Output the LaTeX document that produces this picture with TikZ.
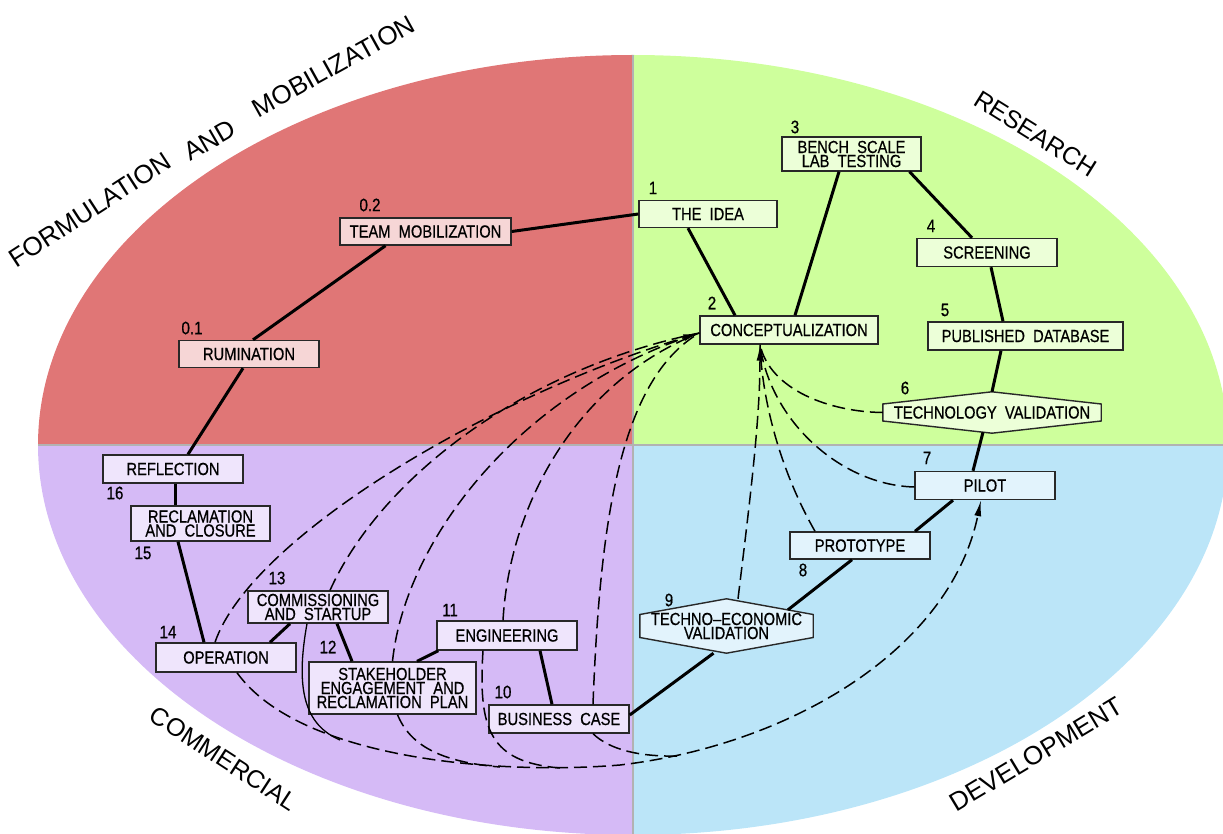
\documentclass[tikz,border=0pt]{standalone}
\usepackage{fontspec}
\setmainfont{Liberation Sans}
\newfontfamily\boxfont{Liberation Sans}[FakeStretch=0.84,FakeBold=0.6]
\newfontfamily\lblfont{Liberation Sans}
\usetikzlibrary{arrows.meta,calc}
\pgfdeclarelayer{bg}
\pgfdeclarelayer{mid}
\pgfsetlayers{bg,mid,main}
\definecolor{qpink}{RGB}{224,118,118}
\definecolor{qgreen}{RGB}{206,255,156}
\definecolor{qpurple}{RGB}{213,186,246}
\definecolor{qblue}{RGB}{187,229,248}
\definecolor{npink}{RGB}{246,214,214}
\definecolor{ngreen}{RGB}{236,255,216}
\definecolor{npurple}{RGB}{239,229,252}
\definecolor{nblue}{RGB}{226,243,252}
\definecolor{edge}{RGB}{40,40,40}
\tikzset{
  box/.style={draw=edge, line width=1.4pt, inner sep=1pt, minimum width=140pt, minimum height=27pt, align=center, font=\boxfont\fontsize{17.5}{14}\selectfont},
  hexbox/.style={inner sep=0pt, align=center, font=\boxfont\fontsize{17.5}{14}\selectfont},
  hexline/.style={draw=edge, line width=1.4pt},
  num/.style={font=\boxfont\fontsize{18}{18}\selectfont, inner sep=0pt},
  qlabel/.style={font=\lblfont\fontsize{26}{26}\selectfont, inner sep=0pt, anchor=base},
  qlabelsm/.style={qlabel, font=\lblfont\fontsize{25}{25}\selectfont},
  link/.style={line width=3pt},
  dlink/.style={line width=1.5pt, dash pattern=on 13pt off 6pt},
  tip/.style={-{Latex[length=16pt,width=7pt]}},
  divider/.style={draw=black!30, line width=1.5pt}
}
\begin{document}
\begin{tikzpicture}[x=1pt,y=-1pt]
\useasboundingbox (0,0) rectangle (1223,834);
% quadrants
\begin{pgfonlayer}{bg}
\fill[qpink] (633,445) -- (38,445) arc[start angle=180, end angle=270, x radius=595, y radius=390] -- cycle;
\fill[qgreen] (633,445) -- (633,55) arc[start angle=270, end angle=360, x radius=595, y radius=390] -- cycle;
\fill[qblue] (633,445) -- (1228,445) arc[start angle=0, end angle=90, x radius=595, y radius=390] -- cycle;
\fill[qpurple] (633,445) -- (633,835) arc[start angle=90, end angle=180, x radius=595, y radius=390] -- cycle;
\draw[divider] (633,55) -- (633,834);
\draw[divider] (38,445) -- (1223,445);
\end{pgfonlayer}
% quadrant labels
\node[qlabel, rotate=33] (qf1) at (95,217) {FORMULATION};
\node[qlabel, rotate=30] (qf2) at (214,148) {AND};
\node[qlabel, rotate=29] (qf3) at (338,74) {MOBILIZATION};
\node[qlabelsm, rotate=-32] (qr) at (1031,141) {RESEARCH};
\node[qlabelsm, rotate=-33] (qc) at (219,766) {COMMERCIAL};
\node[qlabel, rotate=31] (qd) at (1041,762) {DEVELOPMENT};
% nodes
\node[box, fill=npink, minimum width=171pt] (team) at (425.5,231.5) {TEAM~~MOBILIZATION};
\node[box, fill=npink] (rum) at (249,354) {RUMINATION};
\node[box, fill=ngreen, minimum width=138pt] (idea) at (708,214) {THE~~IDEA};
\node[box, fill=ngreen, minimum width=139pt, minimum height=34pt] (bench) at (851.5,154) {BENCH~~SCALE\\LAB~~TESTING};
\node[box, fill=ngreen, minimum height=28pt] (screen) at (987,252.5) {SCREENING};
\node[box, fill=ngreen, minimum width=178pt, minimum height=28pt] (concept) at (789,330) {CONCEPTUALIZATION};
\node[box, fill=ngreen, minimum width=195pt, minimum height=28pt] (pubdb) at (1025.5,336) {PUBLISHED~~DATABASE};
\node[hexbox, minimum width=218pt, minimum height=41pt] (techval) at (992,412.5) {TECHNOLOGY~~VALIDATION};
\node[box, fill=nblue, minimum height=28pt] (pilot) at (985,485.5) {PILOT};
\node[box, fill=nblue] (proto) at (860,545.5) {PROTOTYPE};
\node[hexbox, minimum width=173pt, minimum height=54pt] (tecon) at (726.5,626) {TECHNO\textendash ECONOMIC\\VALIDATION};
\node[box, fill=npurple, minimum height=28pt] (bcase) at (559,719) {BUSINESS~~CASE};
\node[box, fill=npurple, minimum height=29pt] (eng) at (507,635.5) {ENGINEERING};
\node[box, fill=npurple, minimum width=167pt, minimum height=52pt] (stake) at (392.5,688) {STAKEHOLDER\\ENGAGEMENT~~AND\\RECLAMATION~~PLAN};
\node[box, fill=npurple, minimum height=32pt] (comm) at (318,607) {COMMISSIONING\\AND~~STARTUP};
\node[box, fill=npurple, minimum height=29pt] (oper) at (226,657.5) {OPERATION};
\node[box, fill=npurple, minimum width=139pt, minimum height=35pt] (recl) at (200.5,523.5) {RECLAMATION\\AND~~CLOSURE};
\node[box, fill=npurple, minimum height=28pt] (refl) at (173,469) {REFLECTION};
% hexagon outlines
\begin{pgfonlayer}{mid}
\filldraw[hexline, fill=ngreen] ($(techval.west)+(0,-8.5)$) -- (techval.north) -- ($(techval.east)+(0,-8.5)$) -- ($(techval.east)+(0,8.5)$) -- (techval.south) -- ($(techval.west)+(0,8.5)$) -- cycle;
\filldraw[hexline, fill=nblue] ($(tecon.west)+(0,-11.5)$) -- (tecon.north) -- ($(tecon.east)+(0,-11.5)$) -- ($(tecon.east)+(0,11.5)$) -- (tecon.south) -- ($(tecon.west)+(0,11.5)$) -- cycle;
\end{pgfonlayer}
% numbers
\node[num] (l02) at (370,205) {0.2};
\node[num] (l01) at (192,328) {0.1};
\node[num] (l1) at (653,188) {1};
\node[num] (l2) at (712,303) {2};
\node[num] (l3) at (795,127) {3};
\node[num] (l4) at (931,226) {4};
\node[num] (l5) at (945,310) {5};
\node[num] (l6) at (905,388) {6};
\node[num] (l7) at (927,458) {7};
\node[num] (l8) at (803,570) {8};
\node[num] (l9) at (669,600) {9};
\node[num] (l10) at (503,692) {10};
\node[num] (l11) at (450,610) {11};
\node[num] (l12) at (328,647) {12};
\node[num] (l13) at (277,578) {13};
\node[num] (l14) at (168,632) {14};
\node[num] (l15) at (143,553) {15};
\node[num] (l16) at (115,493) {16};
% solid chain
\draw[link] (team.east) -- (idea.west);
\draw[link] ([xshift=-40pt]team.south) -- ([xshift=4pt]rum.north);
\draw[link] ([xshift=-6pt]rum.south) -- ([xshift=15pt]refl.north);
\draw[link] ([xshift=2pt]refl.south) -- ([xshift=-25.5pt]recl.north);
\draw[link] ([xshift=-22.5pt]recl.south) -- ([xshift=-22pt]oper.north);
\draw[link] ([xshift=44pt]oper.north) -- ([xshift=-28pt]comm.south);
\draw[link] ([xshift=19pt]comm.south) -- ([xshift=-40.5pt]stake.north);
\draw[link] ([xshift=24.5pt]stake.north) -- ([xshift=2pt]eng.south west);
\draw[link] ([xshift=33pt]eng.south) -- ([xshift=-7pt]bcase.north);
\draw[link] ([yshift=4pt]bcase.east) -- ([xshift=-13pt]tecon.south);
\draw[link] ([xshift=61.5pt,yshift=-11pt]tecon.north) -- ([xshift=-8pt]proto.south);
\draw[link] ([xshift=55pt]proto.north) -- ([xshift=-32pt]pilot.south);
\draw[link] ([xshift=-12pt]pilot.north) -- ([xshift=-9pt,yshift=1pt]techval.south);
\draw[link] (techval.north) -- ([xshift=-24.5pt]pubdb.south);
\draw[link] ([xshift=-22.5pt]pubdb.north) -- ([xshift=4pt]screen.south);
\draw[link] ([xshift=-15pt]screen.north) -- ([xshift=58pt]bench.south);
\draw[link] ([xshift=-12.5pt]bench.south) -- ([xshift=6pt]concept.north);
\draw[link] ([xshift=-54pt]concept.north) -- ([xshift=-20pt]idea.south);
% dashed fan to conceptualization (left)
\coordinate (cw) at ([yshift=-3pt]concept.west);
\draw[dlink, tip] ([xshift=-11pt]oper.north) .. controls (250,540) and (480,400) .. (cw);
\draw[dlink] ([xshift=12pt]comm.north) .. controls (380,480) and (520,370) .. (cw);
\draw[dlink] (stake.north) .. controls (405,540) and (520,390) .. (cw);
\draw[dlink] ([xshift=-4pt]eng.north) .. controls (510,500) and (580,380) .. (cw);
\draw[dlink] ([xshift=34pt]bcase.north) .. controls (600,520) and (620,380) .. (cw);
% dashed to conceptualization (bottom)
\coordinate (cs) at ([xshift=-29pt]concept.south);
\draw[dlink] (techval.west) .. controls (830,412) and (770,390) .. (cs);
\draw[dlink] ([yshift=-1.5pt]pilot.west) .. controls (840,485) and (770,420) .. (cs);
\draw[dlink] ([xshift=-45pt]proto.north) .. controls (780,470) and (762,400) .. (cs);
\draw[dlink, tip] ([xshift=11.5pt]tecon.north) .. controls (750,500) and (760,420) .. (cs);
% dashed to pilot (bottom)
\coordinate (ps) at ([xshift=-4pt]pilot.south);
\draw[dlink, tip] ([xshift=11pt]oper.south) .. controls (300,760) and (500,775) .. (620,765) .. controls (790,745) and (950,650) .. (ps);
\draw[line width=1.3pt] ([xshift=-11pt]comm.south) .. controls (295,690) and (305,725) .. (340,740);
\draw[dlink] ([xshift=5pt]stake.south) .. controls (410,745) and (440,762) .. (500,767);
\draw[dlink] ([xshift=-24pt]eng.south) .. controls (478,730) and (490,762) .. (560,768);
\draw[dlink] ([xshift=34pt]bcase.south) .. controls (610,750) and (640,757) .. (680,756);
\end{tikzpicture}
\end{document}
